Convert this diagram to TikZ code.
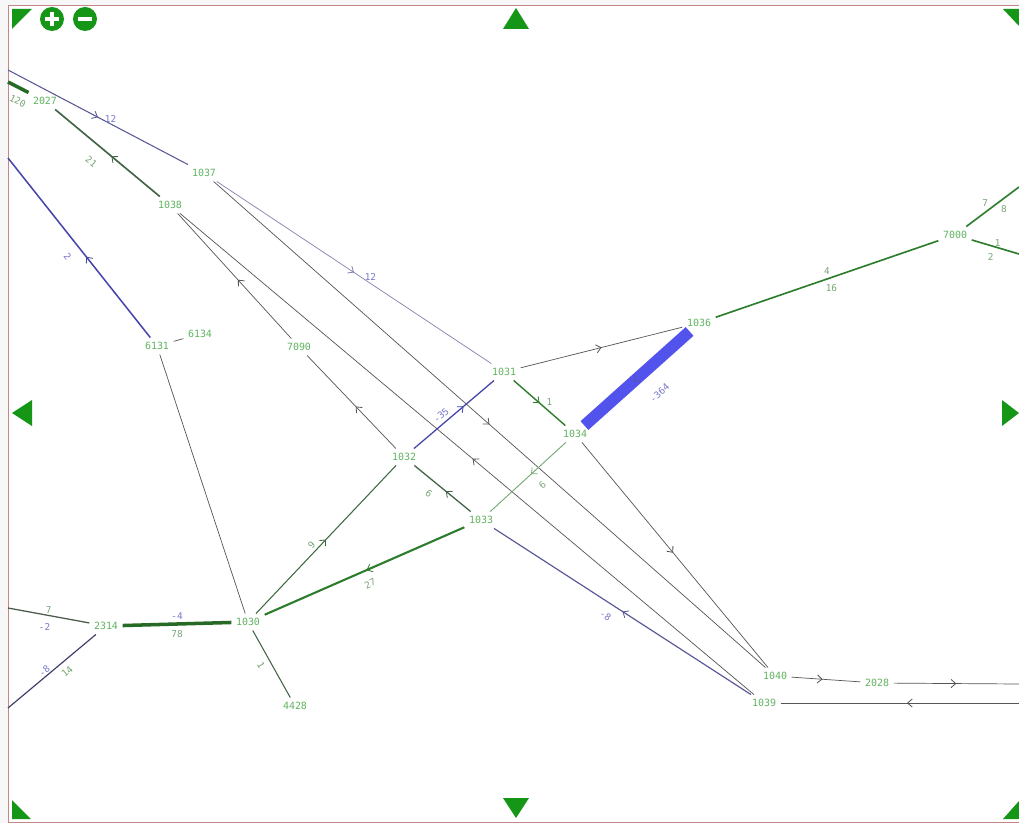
\documentclass[tikz,border=0pt]{standalone}
\usepackage{fontspec}
\newfontfamily\stnfont{DejaVu Sans Mono}
\usetikzlibrary{arrows.meta, decorations.markings}
\definecolor{stngreen}{RGB}{96,180,96}
\definecolor{lblgreen}{RGB}{120,165,120}
\definecolor{lblblue}{RGB}{120,120,205}
\definecolor{linkgrey}{RGB}{85,85,85}
\definecolor{linkslate}{RGB}{88,88,150}
\definecolor{linkblue}{RGB}{70,70,170}
\definecolor{linkgreen}{RGB}{45,125,45}
\definecolor{linkolive}{RGB}{65,100,70}
\definecolor{barblue}{RGB}{82,82,236}
\definecolor{ctrlgreen}{RGB}{22,150,22}
\definecolor{framered}{RGB}{195,135,135}
\newcommand{\stnsize}{\stnfont\fontsize{8.5}{9}\selectfont}
\newcommand{\lblsize}{\stnfont\fontsize{8}{9}\selectfont}
\tikzset{
  % --- Stationen ----------------------------------------------
  stn/.style={font=\stnsize, text=stngreen, inner sep=1pt, outer sep=3pt},
  elbl/.style={font=\lblsize, text=lblgreen, inner sep=1pt},
  elblb/.style={font=\lblsize, text=lblblue, inner sep=1pt},
  % --- Verbindungen -------------------------------------------
  lnk/.style={draw=linkgrey, line width=0.6pt},
  lnkslate/.style={draw=linkslate, line width=0.9pt},
  lnkblue/.style={draw=linkblue, line width=1.3pt},
  lnkgreen/.style={draw=linkgreen, line width=1.4pt},
  lnkolive/.style={draw=linkolive, line width=1pt},
  lnkfat/.style={draw=linkgreen!85!black, line width=3pt},
  lnkbar/.style={draw=barblue, line width=10pt},
  fwd/.style={postaction={decorate, decoration={markings,
    mark=at position #1 with {\arrow[line width=0.7pt]{Straight Barb[length=4pt, width=7pt]}}}}},
  bwd/.style={postaction={decorate, decoration={markings,
    mark=at position #1 with {\arrowreversed[line width=0.7pt]{Straight Barb[length=4pt, width=7pt]}}}}},
  barbwd/.style={postaction={decorate, decoration={markings,
    mark=at position #1 with {\arrowreversed[line width=0.7pt, linkslate]{Straight Barb[length=4pt, width=7pt]}}}}},
  % --- Bedienelemente -----------------------------------------
  ctrl/.style={fill=ctrlgreen, draw=none}
}

\begin{document}
\begin{tikzpicture}[x=0.03cm, y=-0.03cm]

  \useasboundingbox (0,0) rectangle (1019,823);
  \fill[white!97!black] (0,0) rectangle (1019,823);
  \fill[white] (8,5) rectangle (1019,822);
  \draw[framered, line width=0.8pt] (1019,5) -- (8,5) -- (8,822) -- (1019,822);

  % --- Stationen ------------------------------------------------------
  \node[stn] (n2027) at (45,101)  {2027};
  \node[stn] (n1037) at (204,173) {1037};
  \node[stn] (n1038) at (170,205) {1038};
  \node[stn] (n6131) at (157,346) {6131};
  \node[stn] (n6134) at (200,334) {6134};
  \node[stn] (n7090) at (299,347) {7090};
  \node[stn] (n1031) at (504,372) {1031};
  \node[stn] (n1036) at (699,323) {1036};
  \node[stn] (n7000) at (955,235) {7000};
  \node[stn] (n1034) at (575,434) {1034};
  \node[stn] (n1032) at (404,457) {1032};
  \node[stn] (n1033) at (481,520) {1033};
  \node[stn] (n2314) at (106,626) {2314};
  \node[stn] (n1030) at (248,622) {1030};
  \node[stn] (n4428) at (295,706) {4428};
  \node[stn] (n1040) at (775,676) {1040};
  \node[stn] (n2028) at (877,683) {2028};
  \node[stn] (n1039) at (764,703) {1039};

  % --- Enden am Bildrand ----------------------------------------------
  \coordinate (wA) at (8,70);
  \coordinate (wB) at (8,82);
  \coordinate (wC) at (8,158);
  \coordinate (wD) at (8,608);
  \coordinate (wE) at (8,708);
  \coordinate (eA) at (1019,187);
  \coordinate (eB) at (1019,254);
  \coordinate (eC) at (1019,684);
  \coordinate (eD) at (1019,703);

  % --- Verbindungen ---------------------------------------------------
  \draw[lnkslate, fwd=0.5] (wA) -- node[pos=0.57, elblb, above=0pt] {12} (n1037);
  \draw[lnkslate, draw=linkslate!75, line width=0.6pt, fwd=0.5] (n1037) -- node[pos=0.56, elblb, above=1pt] {12} (n1031);
  \draw[lnkfat] (wB) -- node[pos=0.75, elbl, sloped, below=5pt] {120} (n2027);
  \draw[lnkgreen, draw=linkolive, bwd=0.54] (n2027) -- node[pos=0.45, elbl, sloped, below=10pt] {21} (n1038);
  \draw[lnkblue, bwd=0.55] (wC) -- node[pos=0.5, elblb, sloped, below=8pt] {2} (n6131);
  \draw[lnk] (n6131) -- (n6134);
  \draw[lnk] (n6131) -- (n1030);
  \draw[lnk, bwd=0.53] (n1038) -- (n7090);
  \draw[lnk, bwd=0.55] (n7090) -- (n1032);
  \draw[lnk, fwd=0.5] (n1037) -- (n1040);
  \draw[lnk, bwd=0.51] (n1038) -- (n1039);
  \draw[lnk, fwd=0.5] (n1031) -- (n1036);
  \draw[lnkgreen] (n1036) -- node[pos=0.5, elbl, above=2pt] {4} node[pos=0.52, elbl, below=4pt] {16} (n7000);
  \draw[lnkgreen] (n7000) -- node[pos=0.45, elbl, above left=0pt] {7} node[pos=0.6, elbl, below right=1pt] {8} (eA);
  \draw[lnkgreen] (n7000) -- node[pos=0.55, elbl, above=-1pt] {1} node[pos=0.4, elbl, below=5pt] {2} (eB);
  \draw[lnkbar, barbwd=0.47] (n1034) -- node[pos=0.55, elblb, sloped, below=13pt] {-364} (n1036);
  \draw[lnkblue, line width=1.1pt, fwd=0.62] (n1032) -- node[pos=0.4, elblb, sloped, above=2pt] {-35} (n1031);
  \draw[lnkgreen, line width=1.2pt, fwd=0.5] (n1031) -- node[pos=0.6, elbl, above right=0pt] {1} (n1034);
  \draw[lnkgreen, draw=linkgreen!65, line width=0.8pt, bwd=0.54] (n1033) -- node[pos=0.55, elbl, sloped, below=9pt] {6} (n1034);
  \draw[lnkolive, line width=1.1pt, bwd=0.56] (n1032) -- node[pos=0.4, elbl, sloped, below=6pt] {6} (n1033);
  \draw[lnkolive, line width=0.9pt, draw=linkolive!80!linkgreen, fwd=0.5] (n1030) -- node[pos=0.43, elbl, sloped, above=1pt] {9} (n1032);
  \draw[lnkgreen, line width=1.8pt, bwd=0.51] (n1030) -- node[pos=0.5, elbl, sloped, below=7pt] {27} (n1033);
  \draw[lnkfat] (n2314) -- node[pos=0.5, elblb, above=1pt] {-4} node[pos=0.5, elbl, below=3pt] {78} (n1030);
  \draw[lnkolive, line width=0.9pt] (n1030) -- node[pos=0.45, elbl, sloped, below=4pt] {1} (n4428);
  \draw[lnkolive, draw=linkgrey!80!linkgreen, line width=1.1pt] (wD) -- node[pos=0.5, elbl, above=0pt] {7} node[pos=0.45, elblb, below=6pt] {-2} (n2314);
  \draw[lnkslate, draw=linkslate!70!black, line width=1pt] (wE) -- node[pos=0.45, elblb, sloped, above=0pt] {-8} node[pos=0.6, elbl, sloped, below=4pt] {14} (n2314);
  \draw[lnkslate, line width=1pt, bwd=0.5] (n1033) -- node[pos=0.46, elblb, sloped, below=6pt] {-8} (n1039);
  \draw[lnk, fwd=0.49] (n1034) -- (n1040);
  \draw[lnk, fwd=0.45] (n1040) -- (n2028);
  \draw[lnk, fwd=0.5] (n2028) -- (eC);
  \draw[lnk, bwd=0.53] (n1039) -- (eD);

  % --- Bedienelemente -------------------------------------------------
  \fill[ctrl] (12,9) -- (32,9) -- (12,29) -- cycle;
  \fill[ctrl] (1003,9) -- (1019,9) -- (1019,26) -- cycle;
  \fill[ctrl] (12,800) -- (12,819) -- (31,819) -- cycle;
  \fill[ctrl] (1003,819) -- (1019,819) -- (1019,801) -- cycle;
  \fill[ctrl] (516,8) -- (529,29) -- (503,29) -- cycle;
  \fill[ctrl] (516,818) -- (529,798) -- (503,798) -- cycle;
  \fill[ctrl] (12,413) -- (32,400) -- (32,426) -- cycle;
  \fill[ctrl] (1019,413) -- (1002,400) -- (1002,426) -- cycle;
  \node[ctrl, circle, minimum size=24*0.03cm, inner sep=0pt] (zoomin) at (52,19) {};
  \node[ctrl, circle, minimum size=24*0.03cm, inner sep=0pt] (zoomout) at (85,19) {};
  \draw[white, line width=3pt] (45,19) -- (59,19) (52,12) -- (52,26);
  \draw[white, line width=3pt] (78,19) -- (92,19);

\end{tikzpicture}
\end{document}
